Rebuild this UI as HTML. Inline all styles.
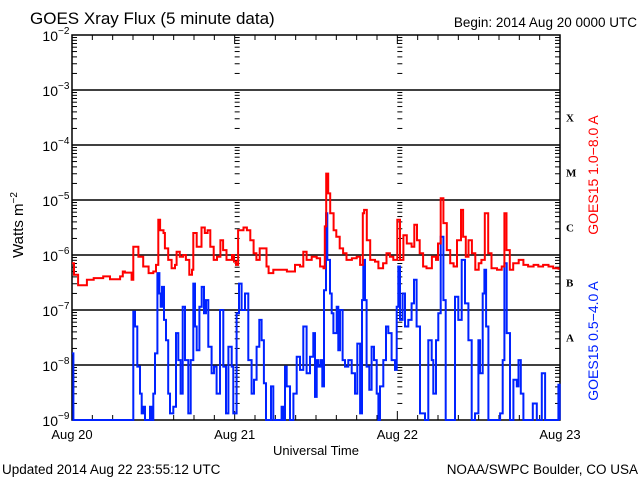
<!DOCTYPE html>
<html><head><meta charset="utf-8"><style>
html,body{margin:0;padding:0;background:#fff;}
svg{display:block;font-family:"Liberation Sans",sans-serif;}
</style></head><body>
<svg id="chart" width="640" height="480" viewBox="0 0 640 480">
<text x="30" y="24" font-size="17">GOES Xray Flux (5 minute data)</text>
<text x="637" y="27" font-size="13.5" text-anchor="end">Begin:  2014 Aug 20 0000 UTC</text>
<text x="2" y="474" font-size="13.5">Updated 2014 Aug 22 23:55:12 UTC</text>
<text x="638" y="474" font-size="13.5" text-anchor="end">NOAA/SWPC Boulder, CO USA</text>
<text x="316" y="455" font-size="13" text-anchor="middle">Universal Time</text>
<text transform="translate(23,225) rotate(-90)" font-size="15" text-anchor="middle">Watts m<tspan font-size="10" dy="-6">−2</tspan></text>
<text transform="translate(598,175) rotate(-90)" font-size="14" fill="#ff0000" text-anchor="middle">GOES15 1.0−8.0 A</text>
<text transform="translate(598,341) rotate(-90)" font-size="14" fill="#0022ff" text-anchor="middle">GOES15 0.5−4.0 A</text>
<g id="axes"></g>
<g id="series"></g>
</svg>
<script>
const yDecades = [-2,-3,-4,-5,-6,-7,-8,-9];
const flareClasses = ["X","M","C","B","A"];
const flareClassLog = [-3.5,-4.5,-5.5,-6.5,-7.5];
const dayLabels = ["Aug 20","Aug 21","Aug 22","Aug 23"];
const dayHours = [0,24,48,72];

const redT = [0,0.3,0.9,2.2,3.2,4.6,5.6,7.1,7.5,7.8,8.8,9.05,9.8,10.5,11.3,12.0,12.4,12.74,13.0,13.5,13.7,14.2,14.7,15.2,15.44,15.9,16.4,16.8,17.3,17.7,17.9,18.4,19.1,19.6,20.0,20.4,20.9,21.4,21.9,22.3,22.8,23.6,23.9,24.2,24.5,25.3,25.8,26.3,26.8,27.2,27.7,28.2,28.7,29.0,29.7,30.7,31.7,32.9,33.64,34.13,34.62,35.36,36.1,36.6,37.1,37.3,37.5,37.8,38.1,38.6,39.0,39.5,40.0,40.5,41.3,42.0,42.5,42.9,43.1,43.5,44.0,44.7,45.2,45.9,46.4,46.9,47.4,47.8,48.0,48.4,48.9,49.4,50.1,50.5,50.9,51.3,51.8,52.3,53.1,53.7,54.0,54.4,54.8,55.3,55.8,56.3,56.8,57.4,57.7,58.1,58.5,59.0,59.5,60.0,60.4,60.9,61.4,61.9,62.7,63.4,63.8,64.1,64.6,65.1,65.9,66.6,67.3,68.1,68.8,69.5,70.3,71.0,71.8];
const redLogFlux = [-6.15,-6.36,-6.55,-6.45,-6.42,-6.39,-6.44,-6.39,-6.30,-6.32,-6.45,-5.85,-6.03,-6.21,-6.33,-6.30,-6.18,-5.36,-5.55,-5.6,-5.88,-6.09,-6.24,-6.18,-5.94,-6.03,-6.0,-6.09,-6.36,-6.27,-5.6,-5.85,-5.5,-5.6,-5.55,-5.85,-6.09,-6.03,-5.73,-5.91,-6.09,-6.0,-6.12,-6.18,-5.55,-5.5,-5.55,-5.73,-5.97,-6.09,-5.88,-5.88,-6.21,-6.33,-6.27,-6.27,-6.30,-6.18,-6.21,-5.94,-6.09,-6.03,-6.06,-6.21,-6.24,-5.48,-4.52,-4.88,-5.24,-5.55,-5.67,-5.88,-5.97,-6.09,-6.06,-6.03,-6.18,-5.24,-5.18,-5.73,-6.09,-6.12,-6.24,-6.15,-5.97,-6.03,-6.09,-6.09,-5.36,-6.09,-5.64,-5.79,-5.85,-5.45,-5.73,-5.97,-6.21,-6.24,-6.03,-6.09,-5.79,-4.97,-5.42,-5.91,-6.15,-6.21,-5.73,-5.18,-5.67,-6.03,-5.73,-5.97,-6.27,-6.15,-6.09,-5.24,-5.97,-6.24,-6.27,-6.21,-5.24,-5.91,-6.27,-6.15,-6.09,-6.18,-6.21,-6.18,-6.21,-6.18,-6.21,-6.24,-6.27];

const blueT = [0,0.2,8.8,9.05,9.3,9.64,10.03,10.28,10.52,10.77,11.26,11.51,11.75,12.0,12.25,12.6,12.9,13.08,13.28,13.57,13.87,14.2,14.46,14.95,15.34,15.69,16.03,16.33,16.67,17.16,17.51,17.9,18.15,18.4,18.79,19.13,19.48,19.77,20.11,20.6,20.95,21.34,21.83,22.32,22.72,23.07,23.56,23.8,24.29,24.64,25.03,25.52,26.01,26.5,26.85,27.24,27.63,27.98,28.32,28.62,29.21,29.36,29.7,30.69,30.93,31.18,31.43,31.67,32.17,32.66,33.15,33.64,34.13,34.62,35.11,35.6,35.85,36.1,36.34,36.69,36.93,37.18,37.47,37.67,38.06,38.31,38.56,39.05,39.29,39.54,39.93,40.28,40.77,41.26,41.75,42.1,42.5,42.79,42.98,43.23,43.47,43.87,44.21,44.56,44.95,45.2,45.44,45.93,46.33,46.67,47.16,47.65,47.9,48.14,48.39,48.78,49.13,49.62,50.11,50.46,50.85,51.34,52.08,52.57,53.07,53.31,53.71,54.05,54.4,54.79,55.13,56.02,56.51,57.0,57.5,57.99,58.48,58.97,59.46,59.96,60.2,60.6,60.84,61.09,61.43,62.66,63.16,63.55,63.8,64.14,64.63,65.13,65.62,65.87,66.21,66.6,67.59,67.98,68.57,69.31,69.8,71.52,71.77,71.96];
const blueLogFlux = [-7.79,-9,-9,-7.03,-7.3,-8.03,-8.52,-8.88,-8.76,-9,-9,-8.76,-9,-8.52,-7.79,-6.33,-6.70,-6.94,-6.58,-7.18,-7.55,-8.52,-8.88,-8.76,-7.42,-7.91,-8.52,-6.94,-7.91,-8.88,-7.91,-6.52,-7.3,-7.73,-6.94,-6.58,-7.06,-6.82,-7.67,-8.15,-8.03,-8.52,-7.0,-8.03,-8.88,-7.67,-8.03,-8.88,-7.06,-6.52,-7.0,-6.70,-7.91,-8.52,-8.27,-7.67,-7.18,-7.55,-8.33,-9,-9,-8.39,-9,-9,-8.76,-9,-8.03,-8.39,-9,-8.52,-7.85,-8.09,-7.3,-8.15,-7.85,-7.42,-8.58,-7.91,-8.03,-7.91,-8.39,-6.64,-5.24,-6.09,-6.70,-7.06,-7.42,-6.94,-7.73,-7.0,-7.91,-8.03,-7.91,-8.15,-8.52,-7.61,-8.88,-6.82,-6.09,-6.82,-8.03,-8.45,-7.67,-7.91,-8.52,-9,-8.39,-7.91,-7.3,-7.42,-7.91,-8.09,-6.94,-6.21,-7.18,-6.70,-7.3,-7.18,-6.88,-6.45,-7.3,-8.88,-9,-7.55,-7.91,-8.52,-7.55,-7.06,-5.67,-6.82,-9,-9,-6.76,-7.18,-6.09,-6.88,-7.55,-9,-8.88,-7.55,-8.15,-6.70,-6.27,-7.3,-9,-9,-8.88,-7.91,-6.15,-7.42,-9,-8.27,-8.39,-7.91,-8.52,-9,-9,-8.7,-9,-8.15,-9,-9,-8.36,-9];

const X0=72, X1=560, Y0=35, Y1=420, NS="http://www.w3.org/2000/svg";
function xScale(h){return X0+(X1-X0)*h/72;}
function yScale(lg){return Y0+(Y1-Y0)*(-2-lg)/7;}
const axes=document.getElementById('axes'), series=document.getElementById('series');
function mk(tag,attrs,parent){const e=document.createElementNS(NS,tag);for(const k in attrs)e.setAttribute(k,attrs[k]);parent.appendChild(e);return e;}

const frame=mk('rect',{x:X0,y:Y0,width:X1-X0,height:Y1-Y0,fill:'none',stroke:'#000','stroke-width':1.5},axes);



yDecades.forEach(function(d){
  const y=yScale(d);
  if(d>-9 && d<-2){
    const gl=mk('line',{x1:X0,x2:X1,y1:y,y2:y,stroke:'#000','stroke-width':1.5},axes);
    
    
  }
  const t=mk('text',{x:58,y:y+6,'font-size':14,'text-anchor':'end'},axes);
  t.textContent='10';
  
  
  const s=mk('text',{x:58,y:y-1,'font-size':10},axes);
  s.textContent=String(d).replace('-','−');
  
  
});
const cols=[[X0,1],[X1,-1],[xScale(24),1],[xScale(48),1]];
for(let d=-9; d<-2; d++){
  for(let m=2;m<=9;m++){
    const y=yScale(d+Math.log10(m));
    cols.forEach(function(c){
      const tk=mk('line',{x1:c[0],x2:c[0]+c[1]*5,y1:y,y2:y,stroke:'#000','stroke-width':1},axes);
      
      
    });
  }
}
for(let h=3;h<72;h+=3){
  const x=xScale(h), len=(h%24===0)?9:5;
  const a=mk('line',{x1:x,x2:x,y1:Y1,y2:Y1-len,stroke:'#000','stroke-width':1},axes);
  
  
  const b=mk('line',{x1:x,x2:x,y1:Y0,y2:Y0+len,stroke:'#000','stroke-width':1},axes);
  
  
}
dayLabels.forEach(function(lab,i){
  const t=mk('text',{x:xScale(dayHours[i]),y:439,'font-size':13,'text-anchor':'middle'},axes);
  t.textContent=lab;
  
  
});
flareClasses.forEach(function(c,i){
  const t=mk('text',{x:566,y:yScale(flareClassLog[i])+4,'font-size':11,'font-weight':'bold','font-family':'Liberation Serif, serif'},axes);
  t.textContent=c;
  
  
});

function line(ts,vs,color,name){
  let d='';
  for(let i=0;i<ts.length;i++){
    const x=xScale(ts[i]).toFixed(1), y=yScale(Math.max(-9,vs[i])).toFixed(1);
    if(i===0) d+='M'+x+','+y; else d+=' H'+x+' V'+y;
  }
  const pl=mk('path',{d:d,fill:'none',stroke:color,'stroke-width':2},series);
  
  
}
line(blueT,blueLogFlux,'#0022ff','short-channel-line');
line(redT,redLogFlux,'#ff0000','long-channel-line');
</script>
</body></html>
